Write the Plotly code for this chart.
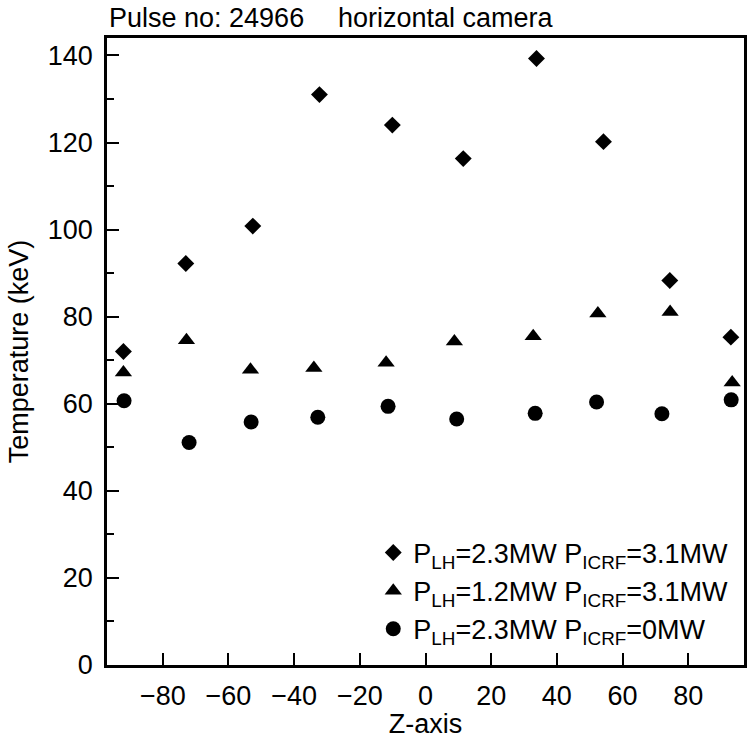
import plotly.graph_objects as go

# Data
z_diamond = [-92.0, -73.0, -52.6, -32.3, -10.1, 11.5, 33.8, 54.2, 74.4, 93.0]
t_diamond = [72.0, 92.2, 100.8, 131.0, 124.0, 116.3, 139.3, 120.2, 88.3, 75.3]

z_triangle = [-92.0, -72.8, -53.3, -34.0, -12.0, 8.8, 32.8, 52.5, 74.5, 93.4]
t_triangle = [67.2, 74.6, 67.8, 68.2, 69.4, 74.3, 75.5, 80.7, 81.1, 64.9]

z_circle = [-91.8, -72.0, -53.1, -32.8, -11.4, 9.5, 33.4, 52.1, 72.0, 93.1]
t_circle = [60.7, 51.1, 55.8, 56.9, 59.4, 56.5, 57.8, 60.4, 57.7, 60.9]

names = [
    "P<sub>LH</sub>=2.3MW P<sub>ICRF</sub>=3.1MW",
    "P<sub>LH</sub>=1.2MW P<sub>ICRF</sub>=3.1MW",
    "P<sub>LH</sub>=2.3MW P<sub>ICRF</sub>=0MW",
]
x_ticks = [-80, -60, -40, -20, 0, 20, 40, 60, 80]
y_ticks = [0, 20, 40, 60, 80, 100, 120, 140]

FONT = "Liberation Sans, Arial, Helvetica, sans-serif"
FS = 27

fig = go.Figure()
fig.add_trace(go.Scatter(x=z_diamond, y=t_diamond, mode="markers", name=names[0],
                         marker=dict(symbol="diamond", size=13, color="black")))
fig.add_trace(go.Scatter(x=z_triangle, y=t_triangle, mode="markers", name=names[1],
                         marker=dict(symbol="triangle-up", size=15, color="black")))
fig.add_trace(go.Scatter(x=z_circle, y=t_circle, mode="markers", name=names[2],
                         marker=dict(symbol="circle", size=15, color="black")))

fig.update_layout(
    width=754, height=739,
    margin=dict(l=107, r=7, t=38, b=74, pad=0),
    paper_bgcolor="white", plot_bgcolor="white",
    font=dict(family=FONT, size=FS, color="black"),
    showlegend=True,
    legend=dict(x=0.418, y=0.118, xanchor="left", yanchor="middle",
                bgcolor="rgba(0,0,0,0)", borderwidth=0,
                font=dict(family=FONT, size=FS, color="black"),
                itemwidth=30),
    xaxis=dict(range=[-97, 97], tickvals=x_ticks, ticks="inside", ticklen=12,
               tickwidth=2, tickcolor="black", showline=True, linecolor="black",
               linewidth=2.5, mirror=True, showgrid=False, zeroline=False,
               ticklabelstandoff=5,
               title=dict(text="Z-axis", standoff=0, font=dict(size=FS))),
    yaxis=dict(range=[0, 144], tickvals=y_ticks, ticks="inside", ticklen=12,
               tickwidth=2, tickcolor="black", showline=True, linecolor="black",
               linewidth=2.5, mirror=True, showgrid=False, zeroline=False,
               ticklabelstandoff=6,
               minor=dict(dtick=10, tick0=0, ticks="inside", ticklen=7,
                          tickwidth=2, tickcolor="black", showgrid=False),
               title=dict(text="Temperature (keV)", standoff=12, font=dict(size=FS))),
    annotations=[
        dict(text="Pulse no: 24966", xref="paper", yref="paper", x=0.0, y=1.032,
             xanchor="left", yanchor="middle", showarrow=False,
             font=dict(family=FONT, size=FS, color="black")),
        dict(text="horizontal camera", xref="paper", yref="paper", x=0.359, y=1.032,
             xanchor="left", yanchor="middle", showarrow=False,
             font=dict(family=FONT, size=FS, color="black")),
    ],
)

fig.write_html("out.html")
